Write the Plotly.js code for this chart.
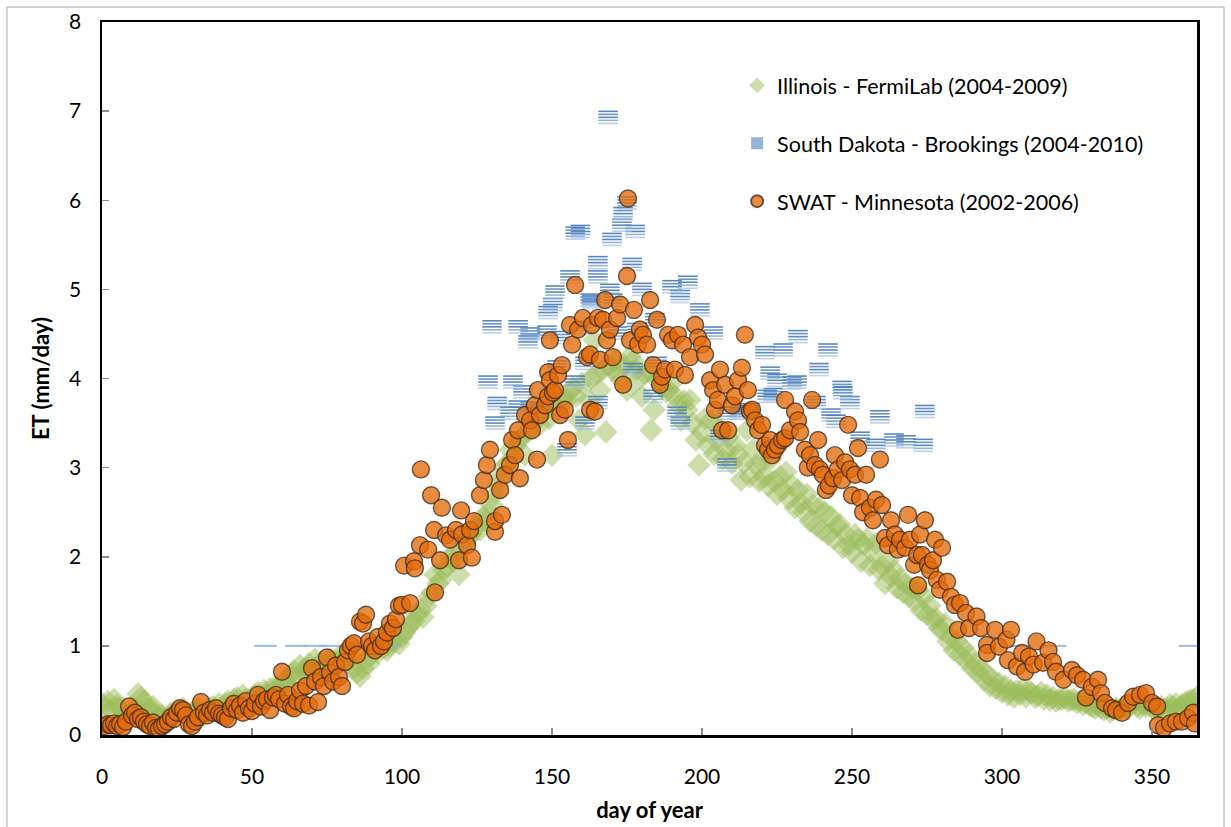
<!DOCTYPE html>
<html>
<head>
<meta charset="utf-8">
<script src="https://cdn.plot.ly/plotly-3.0.1.min.js"></script>
<style>
  html, body { margin: 0; padding: 0; background: #ffffff; }
  #chart { width: 1231px; height: 827px; }
</style>
</head>
<body>
<div id="chart"></div>
<script>
// ---------------- DATA ----------------
// Illinois - FermiLab (2004-2009): one value per day of year, starting at day 0
const illinoisET = [
  0.35,0.30,0.38,0.28,0.40,0.33,0.30,0.25,0.22,0.20,0.25,0.30,0.46,0.42,0.38,0.30,0.28,0.32,0.25,0.20,
  0.22,0.18,0.20,0.25,0.22,0.28,0.25,0.30,0.22,0.20,0.25,0.28,0.30,0.25,0.22,0.28,0.30,0.32,0.28,0.35,
  0.30,0.35,0.38,0.32,0.40,0.42,0.35,0.45,0.40,0.38,0.42,0.45,0.48,0.40,0.50,0.45,0.52,0.48,0.55,0.50,
  0.58,0.62,0.55,0.68,0.72,0.65,0.78,0.70,0.75,0.80,0.72,0.85,0.78,0.82,0.75,0.80,0.85,0.78,0.82,0.88,
  0.85,0.90,0.82,0.88,0.75,0.70,0.66,0.75,0.85,0.80,0.90,0.95,0.92,1.00,0.98,0.95,1.00,1.05,1.08,1.02,
  1.10,1.15,1.20,1.25,1.28,1.35,1.40,1.32,1.45,1.55,1.60,1.80,1.70,1.74,1.85,1.90,2.00,1.95,2.05,1.80,
  2.08,2.15,2.20,2.25,2.30,2.35,2.30,2.45,2.41,2.50,2.58,2.70,2.80,2.90,3.00,3.05,3.20,3.10,3.25,3.31,
  3.35,3.14,3.40,3.45,3.50,3.55,3.48,3.60,3.65,3.55,3.14,3.70,3.65,3.75,3.80,3.76,3.85,3.90,3.80,3.53,
  3.95,3.37,3.76,4.00,4.43,4.05,3.87,4.10,3.40,4.15,4.10,4.20,4.05,3.98,4.15,3.87,4.25,4.20,4.10,4.00,
  3.80,4.05,4.10,3.42,3.65,3.98,4.00,3.90,3.85,3.87,3.95,3.80,3.70,3.53,3.75,3.65,3.76,3.50,3.31,3.03,
  3.40,3.55,3.25,3.53,3.15,3.31,3.45,3.10,3.20,3.35,3.05,3.25,3.15,2.86,3.05,3.42,2.90,3.20,3.03,2.85,
  3.05,2.90,2.80,3.10,2.85,2.70,2.90,2.75,2.95,2.65,2.80,2.55,2.75,2.60,2.50,2.70,2.40,2.58,2.35,2.55,
  2.30,2.50,2.25,2.45,2.20,2.35,2.36,2.10,2.25,2.13,2.05,2.25,2.19,1.95,2.13,2.20,1.90,2.05,2.15,1.85,
  1.90,1.70,1.95,1.78,1.85,1.65,1.75,1.60,1.70,1.55,1.65,1.50,1.63,1.40,1.55,1.35,1.45,1.30,1.31,1.20,
  1.18,1.25,1.05,1.10,0.95,1.05,0.90,0.98,0.84,0.90,0.75,0.80,0.70,0.75,0.62,0.68,0.55,0.62,0.52,0.58,
  0.48,0.55,0.45,0.50,0.42,0.50,0.45,0.52,0.43,0.50,0.47,0.42,0.44,0.48,0.40,0.45,0.39,0.42,0.38,0.40,
  0.40,0.42,0.38,0.39,0.40,0.36,0.38,0.34,0.36,0.34,0.32,0.30,0.33,0.30,0.28,0.30,0.26,0.28,0.30,0.28,
  0.30,0.32,0.30,0.34,0.36,0.32,0.30,0.34,0.32,0.34,0.30,0.28,0.30,0.32,0.28,0.30,0.34,0.32,0.35,0.30,
  0.34,0.36,0.38,0.39,0.40,0.43
];
const illinoisDay = illinoisET.map((v, i) => i);

// South Dakota - Brookings (2004-2010)
const brookingsDay = [
  157.7,159.5,168.7,170,173.3,173.7,175,177.7,176.7,156,165.3,165.3,169.3,180,190,195.3,192.7,
  163.3,150.3,148.7,162.7,130,138.7,142.7,142,148.3,152.7,171.7,178.3,161,128.7,137,131.7,140.3,
  142.7,131,136,138.7,146,161,155,165.3,183.7,191.7,192.7,208.3,211.7,206,208.3,221,227,225,231.7,
  203.7,185,177,151.7,157.7,216,221.7,232,242,239,222.7,230,246.7,247,249.3,238,243,244.7,223.7,
  212.7,259.3,274.3,252.7,258,268,273.7,264,199.3,184.3,170.3,160.3,151
];
const brookingsET = [
  5.63,5.65,6.93,5.56,5.72,5.85,5.97,5.65,5.28,5.14,5.14,5.30,4.99,5.00,5.03,5.08,4.92,
  4.86,4.83,4.74,4.88,4.58,4.58,4.50,4.41,4.52,4.46,4.51,4.55,4.17,3.96,3.96,3.72,3.85,
  3.67,3.50,3.61,3.68,3.65,3.50,3.20,3.73,3.80,3.61,3.50,3.61,3.61,3.35,3.03,4.29,4.32,3.98,3.96,
  4.51,4.17,4.10,4.13,3.96,3.65,3.80,4.47,4.32,4.10,4.06,3.95,3.90,3.84,3.73,3.73,3.59,3.52,3.82,
  3.63,3.57,3.63,3.33,3.25,3.29,3.25,3.31,4.77,4.66,4.88,4.57,4.97
];
// Brookings days recorded as a flat 1.0 (drawn as single dashes)
const brookingsFlatDay = [54.5, 64.7, 71, 76, 89.3, 96, 306, 317.7, 362.7];
const brookingsFlatET  = [1.0, 1.0, 1.0, 1.0, 1.0, 1.0, 1.0, 1.0, 1.0];

// SWAT - Minnesota (2002-2006)
const swatDay = [
  1,2,3,4,5,6,7,8,9,10,11,12,13,14,15,16,17,18,19,20,
  21,22,23,24,25,26,27,28,29,30,31,32,33,34,35,36,37,38,39,40,
  41,42,43,44,45,46,47,48,49,50,51,52,53,54,55,56,57,58,59,60,
  61,62,63,64,65,66,67,68,69,70,71,72,73,74,75,76,77,78,79,80,
  81,82,83,84,85,86,87,88,89,90,91,92,93,94,95,96,97,98,99,100,
  100.7,102.7,104,104.3,106,106.3,108.7,109.7,110.7,111,112.7,113.3,114.7,116,118,119,119.7,120,121.7,122.7,
  123.3,124,126,127.3,128.3,129.3,131,131,132.7,133.3,134.3,136,136.7,137.7,138.7,139.3,141,142.7,143.3,144.3,
  145,145.3,146,147.7,148.7,148.7,149.3,149.3,150.3,151,152,152.7,153.3,154.3,155.3,156,156.7,157.7,158.7,160.3,
  161.7,162.7,162.7,163.3,164.3,165.3,166,167,167.7,168.3,169.3,170.3,171.7,172.7,173.7,175,175.3,176,177.3,178.7,
  179.3,180.3,181.7,182.7,183.7,185,186,186.7,187.7,188.7,190,191,192,193.7,194.3,196,197.7,198.7,200,201,
  202.7,203.7,204.3,205.3,206,206.7,207.7,208.7,210,211,212,213.3,214.3,215.3,216,216.7,217.7,218.7,220,221,
  222,222.7,223.3,224.3,225.3,226.7,227.7,227.7,229.3,231,232,232.7,234.3,235.3,236,236.7,237.7,238.7,239.3,240.3,
  241.3,242.3,243.7,244.3,245.3,246.7,247.7,248.7,249.3,250,251,252,252.7,253.7,254.7,256,257,258,259.3,260,
  261,262,263,264.3,265.3,266,267.7,268.7,269.3,270.7,271.7,272,272.7,273.3,274.3,275.3,276,277,277.7,278.3,
  279.3,280,281.7,283,284.3,285.3,286,288,289,291.5,293,295,295,297.7,299,301.5,302,303,305,306.7,
  307.7,309,310.5,311.5,313.7,315.5,317,318,320.5,323.3,325,327,328,330,332,333,334.3,336.7,338,340,
  342,343.7,346,348,350,351.7,352,354,356,358,360,362,363.7,364.3
];
const swatET = [
  0.10,0.12,0.11,0.13,0.10,0.12,0.09,0.15,0.32,0.22,0.25,0.18,0.20,0.15,0.12,0.10,0.14,0.08,0.07,0.10,
  0.12,0.15,0.20,0.18,0.25,0.30,0.28,0.22,0.12,0.10,0.15,0.20,0.37,0.25,0.22,0.28,0.25,0.30,0.24,0.22,
  0.20,0.18,0.30,0.35,0.28,0.33,0.25,0.38,0.30,0.27,0.35,0.45,0.32,0.38,0.40,0.28,0.42,0.45,0.40,0.71,
  0.35,0.45,0.32,0.30,0.38,0.50,0.35,0.55,0.33,0.75,0.60,0.37,0.65,0.55,0.87,0.70,0.60,0.78,0.65,0.55,
  0.82,0.95,1.00,1.03,0.90,1.27,1.25,1.35,1.05,1.00,0.95,1.10,1.00,1.05,1.15,1.25,1.20,1.30,1.45,1.46,
  1.90,1.48,1.95,1.87,2.13,2.98,2.08,2.69,2.30,1.60,1.96,2.55,2.24,2.19,2.30,1.96,2.52,2.25,2.13,2.30,
  1.99,2.40,2.69,2.86,3.03,3.20,2.28,2.40,2.75,2.47,2.92,3.03,3.31,3.14,3.42,2.88,3.59,3.53,3.42,3.70,
  3.09,3.87,3.59,3.70,3.80,4.07,3.98,4.43,3.84,3.87,4.04,3.59,4.15,3.65,3.31,4.60,4.38,5.05,4.55,4.68,
  4.24,3.65,4.27,4.60,3.63,4.68,4.21,4.66,4.88,4.43,4.55,4.24,4.68,4.83,3.93,5.15,6.02,4.43,4.77,4.38,
  4.55,4.49,4.38,4.88,4.15,4.66,3.93,4.02,4.10,4.49,4.43,4.10,4.49,4.38,4.04,4.24,4.60,4.46,4.38,4.27,
  3.98,3.87,3.65,3.76,4.10,3.42,3.93,3.42,3.70,3.80,3.98,4.12,4.49,3.87,3.63,3.65,3.53,3.42,3.48,3.25,
  3.20,3.31,3.14,3.20,3.25,3.31,3.76,3.33,3.42,3.63,3.53,3.40,3.20,3.00,3.14,3.76,3.03,3.31,2.98,2.92,
  2.75,2.80,2.88,3.14,2.98,2.86,3.06,3.48,2.98,2.69,2.92,3.22,2.66,2.50,2.92,2.55,2.41,2.64,3.09,2.58,
  2.21,2.13,2.41,2.25,2.08,2.19,2.10,2.47,2.19,1.91,2.02,1.68,2.25,2.02,2.41,1.91,1.85,1.96,2.19,1.74,
  1.63,2.10,1.72,1.55,1.46,1.18,1.48,1.37,1.20,1.33,1.20,1.01,0.92,1.18,0.99,1.07,0.84,1.18,0.77,0.92,
  0.71,0.88,0.79,1.05,0.81,0.95,0.82,0.71,0.62,0.73,0.67,0.62,0.42,0.54,0.62,0.47,0.36,0.30,0.28,0.25,
  0.36,0.43,0.45,0.47,0.36,0.32,0.11,0.08,0.13,0.15,0.15,0.19,0.25,0.13
];

const xTicks = [0, 50, 100, 150, 200, 250, 300, 350];
const yTicks = [0, 1, 2, 3, 4, 5, 6, 7, 8];

// ---------------- LAYOUT GEOMETRY ----------------
const W = 1231, H = 827;
const M = { l: 102, r: 34, t: 22, b: 92 };
const plotH = H - M.t - M.b;
const yMax = 8;
const pxPerUnit = plotH / yMax;

const FONT = 'Lato, "Open Sans", sans-serif';

const traces = [];

// Illinois (green diamonds)
traces.push({
  type: 'scatter', mode: 'markers', name: 'Illinois - FermiLab (2004-2009)',
  x: illinoisDay, y: illinoisET, legendgroup: 'a', legendrank: 1,
  marker: { symbol: 'diamond', size: 18, color: 'rgba(155,187,89,0.5)', line: { width: 0 } },
  hoverinfo: 'x+y'
});

// Brookings legend proxy (solid light blue square)
traces.push({
  type: 'scatter', mode: 'markers', name: 'South Dakota - Brookings (2004-2010)',
  x: [null], y: [null], legendgroup: 'b', legendrank: 2,
  marker: { symbol: 'square', size: 14, color: 'rgb(149,179,215)' }
});
// Brookings striped squares: stacked dashes
const stripes = [
  { off: -6, c: 'rgba(79,129,189,0.95)' },
  { off: -3, c: 'rgba(79,129,189,0.85)' },
  { off: 0,  c: 'rgba(79,129,189,0.95)' },
  { off: 3,  c: 'rgba(120,160,205,0.8)' },
  { off: 6,  c: 'rgba(160,190,225,0.7)' }
];
stripes.forEach(s => {
  traces.push({
    type: 'scatter', mode: 'markers', showlegend: false, legendgroup: 'b',
    x: brookingsDay, y: brookingsET.map(v => v - s.off / pxPerUnit),
    marker: { symbol: 'line-ew', size: 14, line: { width: 1.6, color: s.c } },
    hoverinfo: 'skip'
  });
});
traces.push({
  type: 'scatter', mode: 'markers', showlegend: false, legendgroup: 'b',
  x: brookingsFlatDay, y: brookingsFlatET,
  marker: { symbol: 'line-ew', size: 16, line: { width: 2, color: 'rgba(140,175,215,0.85)' } },
  hoverinfo: 'x+y'
});

// SWAT (orange circles)
traces.push({
  type: 'scatter', mode: 'markers', name: 'SWAT - Minnesota (2002-2006)',
  x: swatDay, y: swatET, legendgroup: 'c', legendrank: 3,
  marker: { symbol: 'circle', size: 17, color: 'rgba(228,108,10,0.78)',
            line: { width: 1.4, color: 'rgba(60,40,25,0.75)' } },
  hoverinfo: 'x+y'
});

const layout = {
  width: W, height: H,
  margin: M,
  paper_bgcolor: '#ffffff', plot_bgcolor: '#ffffff',
  font: { family: FONT, size: 21, color: '#000000' },
  showlegend: true,
  legend: {
    x: 0.58, y: 0.94, xanchor: 'left', yanchor: 'top',
    bgcolor: 'rgba(0,0,0,0)', borderwidth: 0,
    font: { family: FONT, size: 21.5, color: '#000' },
    traceorder: 'grouped', tracegroupgap: 27,
    itemsizing: 'constant', itemwidth: 30
  },
  xaxis: {
    range: [0, 365], tickvals: xTicks, ticktext: xTicks.map(String),
    ticks: 'inside', ticklen: 7, tickwidth: 1.5, tickcolor: '#8c8c8c',
    showline: true, linecolor: '#000', linewidth: 2.5, mirror: true,
    showgrid: false, zeroline: false,
    ticklabelstandoff: 21,
    tickfont: { family: FONT, size: 21, color: '#000' },
    title: { text: '<b>day of year</b>', font: { family: FONT, size: 22, color: '#000' }, standoff: 16 }
  },
  yaxis: {
    range: [0, 8], tickvals: yTicks, ticktext: yTicks.map(String),
    ticks: 'inside', ticklen: 7, tickwidth: 1.5, tickcolor: '#8c8c8c',
    showline: true, linecolor: '#000', linewidth: 2.5, mirror: true,
    showgrid: false, zeroline: false,
    ticklabelstandoff: 14,
    tickfont: { family: FONT, size: 21, color: '#000' },
    title: { text: '<b>ET (mm/day)</b>', font: { family: FONT, size: 22, color: '#000' }, standoff: 14 }
  },
  shapes: [{
    type: 'rect', xref: 'paper', yref: 'paper', layer: 'below',
    x0: (7 - M.l) / (W - M.l - M.r), x1: (1224 - M.l) / (W - M.l - M.r),
    y0: (H - M.b - 832) / plotH, y1: (H - M.b - 7) / plotH,
    line: { color: '#a6a6a6', width: 1 }, fillcolor: 'rgba(0,0,0,0)'
  }]
};

Plotly.newPlot('chart', traces, layout, { staticPlot: true, displayModeBar: false });
</script>
</body>
</html>
